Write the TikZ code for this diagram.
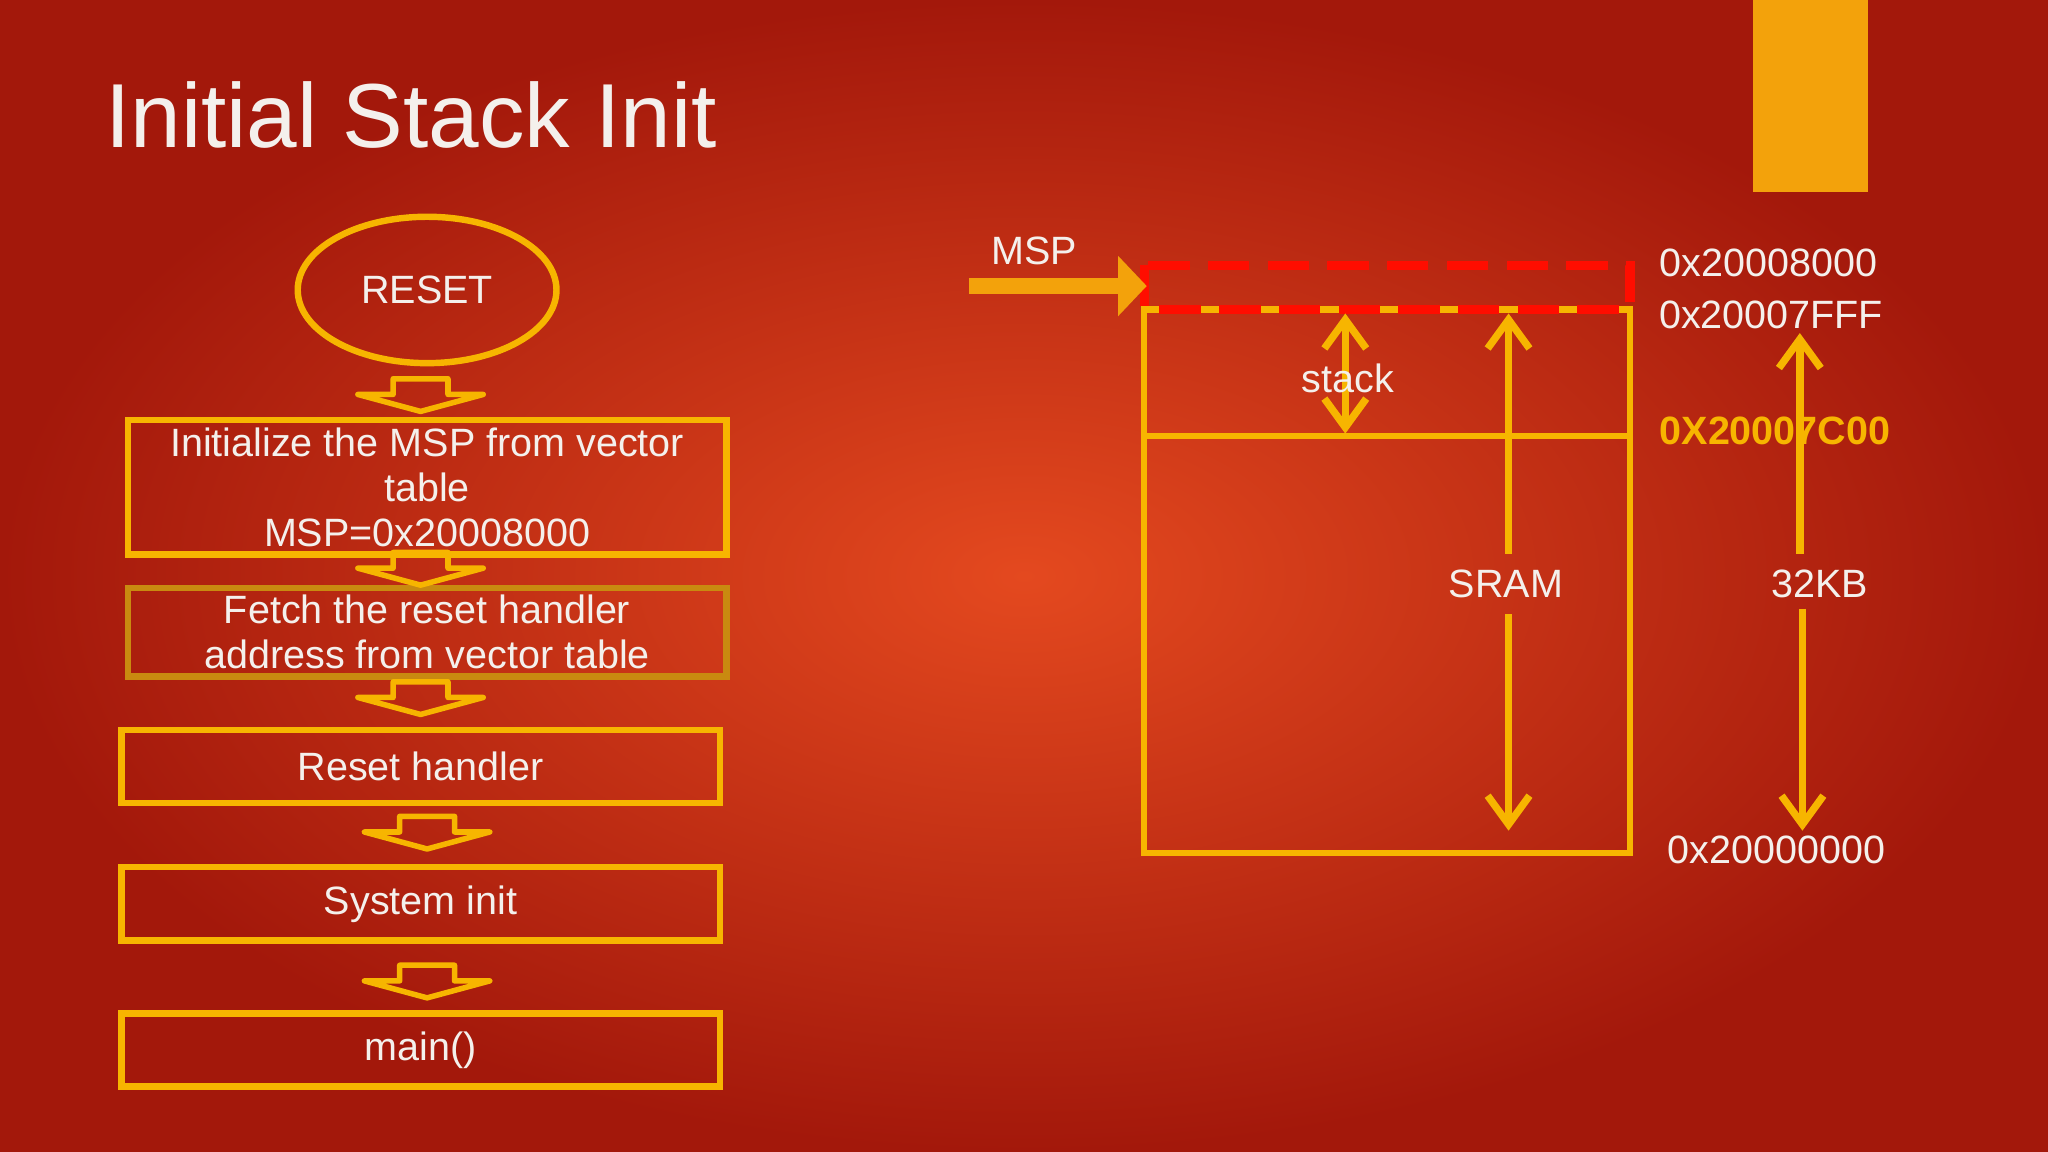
\documentclass[tikz,border=0pt]{standalone}
\usepackage{fontspec}
\setmainfont{Liberation Sans}
\usetikzlibrary{arrows.meta,shapes.geometric}
\definecolor{bgc}{HTML}{E4491F}
\definecolor{bge}{HTML}{A3180B}
\definecolor{ln}{HTML}{F7B500}
\definecolor{ln2}{HTML}{C98A10}
\definecolor{org}{HTML}{F3A20B}
\definecolor{txt}{HTML}{F4F0EC}
\tikzset{
  box/.style={draw=ln,line width=1.4pt,minimum width=4.58cm,align=center,text=txt,font=\fontsize{8.6}{10}\selectfont},
  lbl/.style={text=txt,font=\fontsize{8.6}{10}\selectfont},
  garr/.style={draw=ln,line width=1.6pt,-{Straight Barb[length=2.2mm,width=3.2mm]}},
  darr/.style={draw=ln,line width=1.6pt,{Straight Barb[length=2.2mm,width=3.2mm]}-{Straight Barb[length=2.2mm,width=3.2mm]}},
}
\newcommand{\blockarrow}[2]{% x, y (top) in px
  \draw[ln,line width=1.2pt,line join=round] (#1-21,#2) -- (#1+21,#2) -- (#1+21,#2+12) -- (#1+48,#2+12) -- (#1,#2+25) -- (#1-48,#2+12) -- (#1-21,#2+12) -- cycle;}
\begin{document}
\begin{tikzpicture}[x=0.01cm,y=-0.01cm]
\shade[inner color=bgc,outer color=bge] (0,0) rectangle (1568,882);
\useasboundingbox (0,0) rectangle (1568,882);
\fill[org] (1342,0) rectangle (1430,147);
\node[anchor=base west,text=txt,font=\fontsize{19.8}{23}\selectfont,inner sep=0pt] (title) at (80,113) {Initial Stack Init};
% flowchart
\node[draw=ln,line width=1.4pt,ellipse,minimum width=1.98cm,minimum height=1.12cm,text=txt,font=\fontsize{8.6}{10}\selectfont] (reset) at (327,222) {RESET};
\node[box,minimum height=1.03cm,inner sep=0pt] (b1) at (327,373) {Initialize the MSP from vector\\[-0.2pt] table\\[-0.2pt] MSP=0x20008000};
\node[box,draw=ln2,minimum height=0.68cm,inner sep=0pt] (b2) at (327,484) {Fetch the reset handler\\[-0.2pt] address from vector table};
\node[box,minimum height=0.56cm] (b3) at (322,587) {Reset handler};
\node[box,minimum height=0.56cm] (b4) at (322,692) {System init};
\node[box,minimum height=0.56cm] (b5) at (322,804) {main()};
\blockarrow{322}{290}
\blockarrow{322}{423}
\blockarrow{322}{522}
\blockarrow{327}{625}
\blockarrow{327}{739}
% memory
\draw[ln,line width=1.4pt] (876,237) rectangle (1248,653);
\draw[ln,line width=1.4pt] (876,334) -- (1248,334);
\draw[red!90!orange,line width=2pt,dash pattern=on 9pt off 4pt] (876,203) rectangle (1248,237);
\node[lbl,anchor=center] (msp) at (792,192) {MSP};
\coordinate (ms) at (742,219); \coordinate (me) at (878,219);
\draw[org,line width=3.5pt,-{Triangle[length=2.2mm,width=4.5mm]}] (ms) -- (me);
\coordinate (s1) at (1030,240); \coordinate (s2) at (1030,332);
\draw[darr] (s1) -- (s2);
\node[lbl,fill=none] (stack) at (1032,290) {stack};
\node[lbl] (sram) at (1153,447) {SRAM};
\coordinate (a1) at (1155,240); \coordinate (a2) at (1155,636);
\draw[garr] (sram.north -| a1) -- (a1);
\draw[garr] (sram.south -| a2) -- (a2);
\node[lbl] (kb) at (1393,447) {32KB};
\coordinate (k1) at (1378,255); \coordinate (k2) at (1380,636);
\draw[garr] (1378,424) -- (k1);
\draw[garr] (1380,466) -- (k2);
\node[lbl] (a8) at (1354,201) {0x20008000};
\node[lbl] (a7) at (1356,241) {0x20007FFF};
\node[text=ln,font=\bfseries\fontsize{8.6}{10}\selectfont] (ac) at (1359,330) {0X20007C00};
\node[lbl] (a0) at (1360,651) {0x20000000};
\end{tikzpicture}
\end{document}
